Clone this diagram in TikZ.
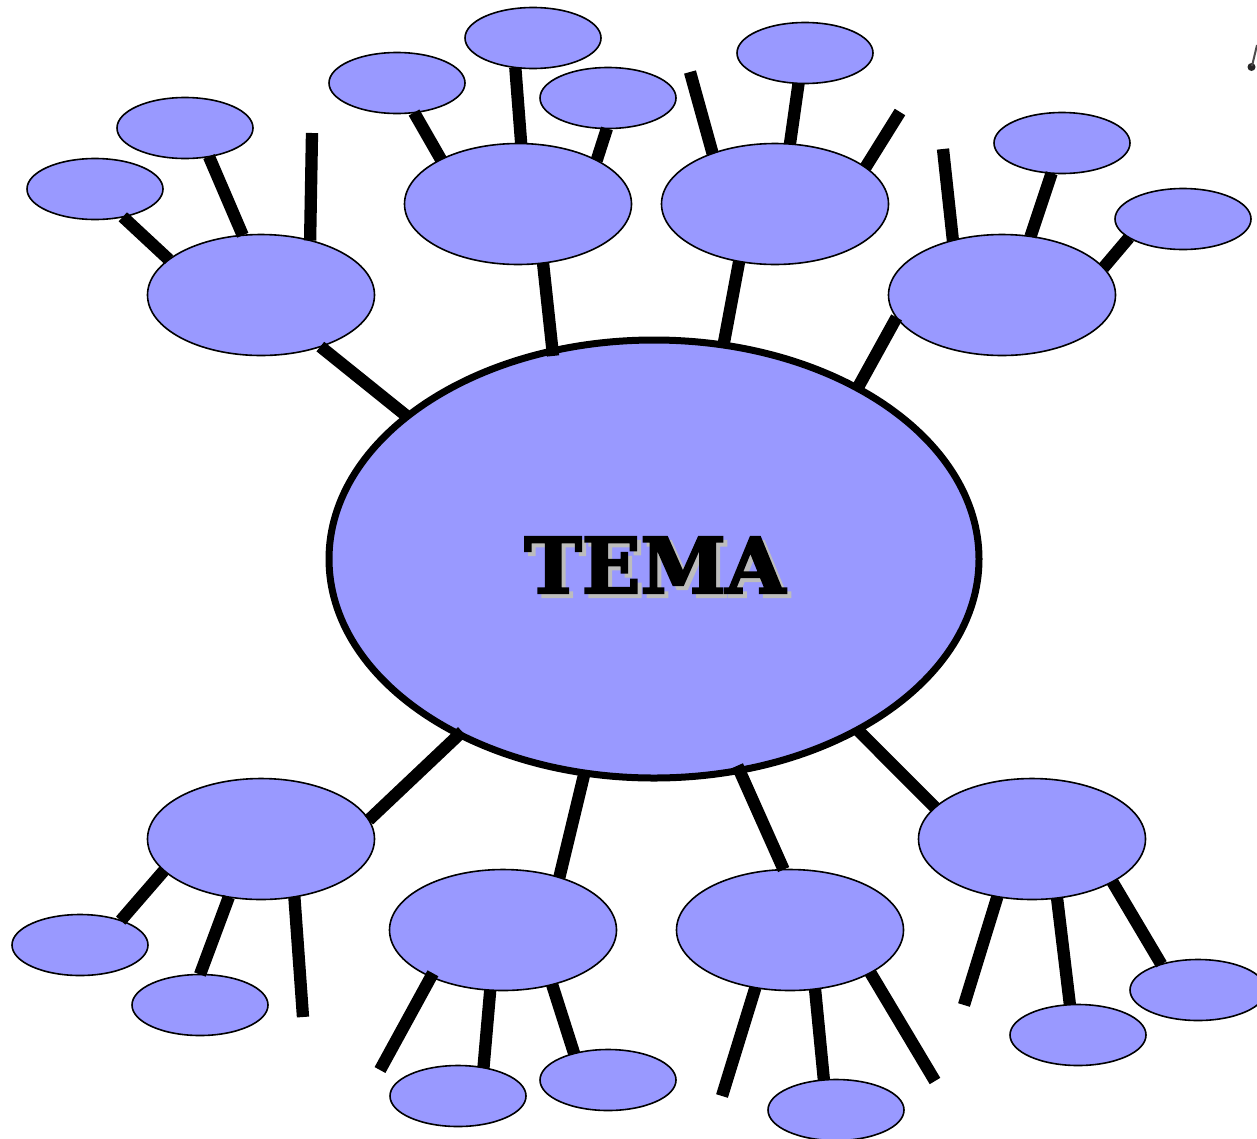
\documentclass[tikz,border=0pt]{standalone}
\usepackage{fontspec}
\setmainfont{DejaVu Serif}
\newfontfamily\titlefont[FakeBold=3]{DejaVu Serif Bold}
\usetikzlibrary{shapes.geometric}
\definecolor{blob}{HTML}{9999FF}
\definecolor{shade}{HTML}{BDBDBD}
\tikzset{
  bigell/.style={ellipse,draw=black,fill=blob,line width=7pt,minimum width=650pt,minimum height=438pt,inner sep=0pt,outer sep=0pt},
  midell/.style={ellipse,draw=black,fill=blob,line width=1.6pt,minimum width=227pt,minimum height=121pt,inner sep=0pt,outer sep=0pt},
  smallell/.style={ellipse,draw=black,fill=blob,line width=1.6pt,minimum width=136pt,minimum height=61pt,inner sep=0pt,outer sep=0pt},
  link/.style={draw=black,line width=12.3pt,line cap=butt},
  titletext/.style={inner sep=0pt,font=\fontsize{77}{90}\selectfont\titlefont}
}
\begin{document}
\begin{tikzpicture}[x=1pt,y=-1pt]
\useasboundingbox (0,0) rectangle (1257,1138);
\clip (0,0) rectangle (1257,1138);
\fill[white] (0,0) rectangle (1257,1138);
% main
\node[bigell] (big) at (654,559) {};
% middle ring
\node[midell] (m1) at (261,295) {};
\node[midell] (m2) at (518,204) {};
\node[midell] (m3) at (775,204) {};
\node[midell] (m4) at (1002,295) {};
\node[midell] (m5) at (261,839) {};
\node[midell] (m6) at (503,930) {};
\node[midell] (m7) at (790,930) {};
\node[midell] (m8) at (1032,839) {};
% outer ring
\node[smallell] (s1) at (95,189) {};
\node[smallell] (s2) at (185,128) {};
\node[smallell] (s3) at (397,83) {};
\node[smallell] (s4) at (533,38) {};
\node[smallell] (s5) at (608,98) {};
\node[smallell] (s6) at (805,53) {};
\node[smallell] (s7) at (1062,143) {};
\node[smallell] (s8) at (1183,219) {};
\node[smallell] (s9) at (80,945) {};
\node[smallell] (s10) at (200,1005) {};
\node[smallell] (s11) at (458,1096) {};
\node[smallell] (s12) at (608,1080) {};
\node[smallell] (s13) at (836,1110) {};
\node[smallell] (s14) at (1078,1035) {};
\node[smallell] (s15) at (1198,990) {};
% free ends
\coordinate (f1) at (312,133);
\coordinate (f2) at (690,72);
\coordinate (f3) at (900,112);
\coordinate (f4) at (943,149);
\coordinate (f5) at (303,1017);
\coordinate (f6) at (380,1070);
\coordinate (f7) at (722,1096);
\coordinate (f8) at (935,1081);
\coordinate (f9) at (964,1005);
% centre to middle
\draw[link] (big.150.6) -- (m1.-41.8);
\draw[link,shorten <=-5pt] (big.116.5) -- (m2.-67);
\draw[link] (big.72.4) -- (m3.238.8);
\draw[link] (big.40.5) -- (m4.192.4);
\draw[link,shorten <=-4pt] (big.222.5) -- (m5.10.8);
\draw[link,shorten <=2pt] (big.252.4) -- (m6.43.9);
\draw[link,shorten <=-5pt] (big.292.2) -- (m7.96.4);
\draw[link] (big.320) -- (m8.162.1);
% middle to outer
\draw[link] (m1.159.4) -- (s1.-45);
\draw[link] (m1.107) -- (s2.-50.4);
\draw[link] (m1.48.3) -- (f1);
\draw[link] (m2.150.6) -- (s3.-60);
\draw[link] (m2.87) -- (s4.239);
\draw[link] (m2.29.4) -- (s5.268);
\draw[link] (m3.141.6) -- (f2);
\draw[link] (m3.76) -- (s6.258.7);
\draw[link] (m3.22.1) -- (f3);
\draw[link] (m4.132.3) -- (f4);
\draw[link] (m4.64.2) -- (s7.251.6);
\draw[link] (m4.15.4) -- (s8.199.8);
\draw[link] (m5.198.6) -- (s9.31.6);
\draw[link] (m5.241.9) -- (s10.90);
\draw[link] (m5.-60.4) -- (f5);
\draw[link,shorten <=-4pt] (m6.213.9) -- (f6);
\draw[link] (m6.258.7) -- (s11.48.2);
\draw[link] (m6.-48.1) -- (s12.142);
\draw[link] (m7.239.5) -- (f7);
\draw[link] (m7.-67.5) -- (s13.112.5);
\draw[link] (m7.-28.2) -- (f8);
\draw[link] (m8.239) -- (f9);
\draw[link] (m8.-67.5) -- (s14.105.4);
\draw[link] (m8.-28.5) -- (s15.145.6);
% title with its drop shadow
\node[titletext,text=shade] at (659,569) {TEMA};
\node[titletext,text=black] (title) at (655,565) {TEMA};
% clipped fragment at the top right corner
\fill[black!85] (1251.5,67) circle (4pt);
\draw[black!70,line width=2pt] (1252,66) -- (1257,45);
\end{tikzpicture}
\end{document}
